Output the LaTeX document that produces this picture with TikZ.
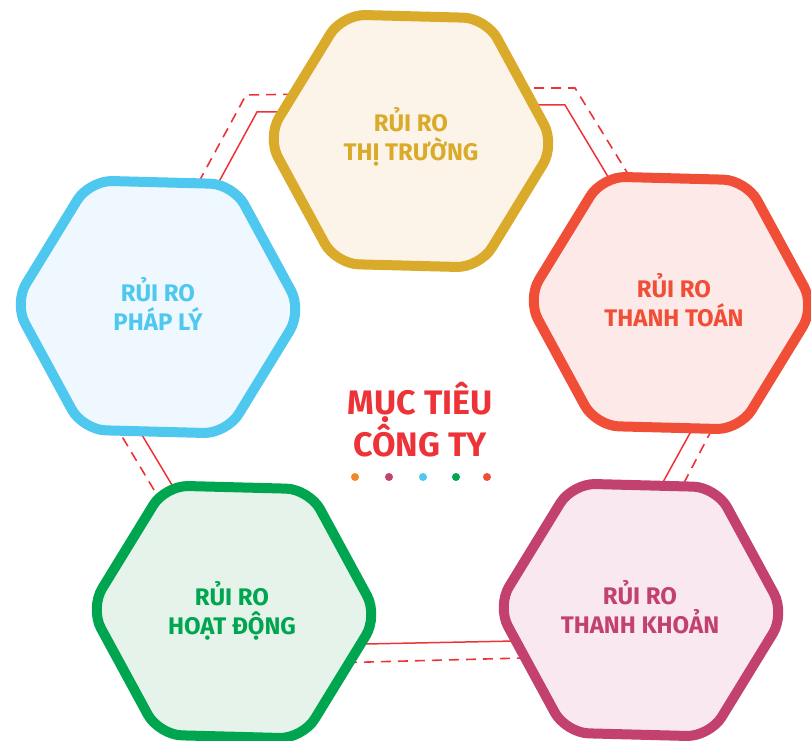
\documentclass[tikz,border=0pt]{standalone}
\usepackage{fontspec}
\setmainfont{Fira Sans}
\usetikzlibrary{calc}
\definecolor{cGold}{HTML}{DAAA2A}
\definecolor{fGold}{HTML}{FCF4E8}
\definecolor{cBlue}{HTML}{4EC8EE}
\definecolor{fBlue}{HTML}{EEF8FE}
\definecolor{cOrg}{HTML}{F04E37}
\definecolor{fOrg}{HTML}{FDEAE8}
\definecolor{cPink}{HTML}{C2416F}
\definecolor{fPink}{HTML}{F9E8EF}
\definecolor{cGreen}{HTML}{00A54F}
\definecolor{fGreen}{HTML}{E5F3EA}
\definecolor{cRed}{HTML}{EE3338}
\definecolor{cDot}{HTML}{F0892D}
\def\hR{144}
\newcommand\hexa[3]{\draw[hexline, draw=#2, fill=#3]
  ($(#1)+(31.5:{0.866*\hR})$) -- ($(#1)+(61.5:\hR)$) -- ($(#1)+(121.5:\hR)$) --
  ($(#1)+(181.5:\hR)$) -- ($(#1)+(241.5:\hR)$) -- ($(#1)+(301.5:\hR)$) --
  ($(#1)+(1.5:\hR)$) -- cycle;}
\begin{document}
\begin{tikzpicture}[x=1pt,y=-1pt,
  hexline/.style={line width=10pt, rounded corners=23pt},
  link/.style={draw=cRed, line width=1.5pt},
  dlink/.style={draw=cRed, line width=1.6pt, dash pattern=on 10pt off 7pt},
  lbl/.style={font=\fontsize{24}{29.5}\selectfont\bfseries, align=center},
  ttl/.style={font=\fontsize{34}{42}\selectfont\bfseries, align=center, text=cRed},
  dotmark/.style={circle, inner sep=0pt, minimum size=8pt}]
\useasboundingbox (0,0) rectangle (811,741);
% hexagon centres
\coordinate (hMkt) at (411,141);
\coordinate (hLaw) at (158,307);
\coordinate (hPay) at (671,303);
\coordinate (hLiq) at (641,610);
\coordinate (hOps) at (234,612);
% connector ends and bends
\coordinate (a1) at (300,112); \coordinate (a2) at (257,112); \coordinate (a3) at (209,200);
\coordinate (b1) at (310,94);  \coordinate (b2) at (246,95);  \coordinate (b3) at (189,200);
\coordinate (c1) at (500,105); \coordinate (c2) at (565,105); \coordinate (c3) at (622,200);
\coordinate (d1) at (500,88);  \coordinate (d2) at (575,88);  \coordinate (d3) at (641,195);
\coordinate (e1) at (700,415); \coordinate (e2) at (652,502);
\coordinate (f1) at (720,414); \coordinate (f2) at (675,500);
\coordinate (g1) at (340,644.5); \coordinate (g2) at (540,640.5);
\coordinate (k1) at (330,663); \coordinate (k2) at (550,657.3);
\coordinate (m1) at (133,420); \coordinate (m2) at (184,505);
\coordinate (n1) at (114,423); \coordinate (n2) at (163,505);
% connectors
\draw[link] (a1) -- (a2) -- (a3);
\draw[dlink] (b1) -- (b2) -- (b3);
\draw[link] (c1) -- (c2) -- (c3);
\draw[dlink] (d1) -- (d2) -- (d3);
\draw[link] (e1) -- (e2);
\draw[dlink] (f1) -- (f2);
\draw[link] (g1) -- (g2);
\draw[dlink] (k1) -- (k2);
\draw[link] (m1) -- (m2);
\draw[dlink] (n1) -- (n2);
% hexagons
\hexa{hMkt}{cGold}{fGold}
\hexa{hLaw}{cBlue}{fBlue}
\hexa{hPay}{cOrg}{fOrg}
\hexa{hLiq}{cPink}{fPink}
\hexa{hOps}{cGreen}{fGreen}
% labels
\node[lbl, text=cGold] (tMkt) at (411,137) {RỦI RO\\THỊ TRƯỜNG};
\node[lbl, text=cBlue] (tLaw) at (158,304) {RỦI RO\\PHÁP LÝ};
\node[lbl, text=cOrg] (tPay) at (674,300) {RỦI RO\\THANH TOÁN};
\node[lbl, text=cPink] (tLiq) at (640,607) {RỦI RO\\THANH KHOẢN};
\node[lbl, text=cGreen] (tOps) at (232,611) {RỦI RO\\HOẠT ĐỘNG};
\node[ttl] (goal) at (420,420) {MỤC TIÊU\\CÔNG TY};
\node[dotmark, fill=cDot] (d01) at (355,477) {};
\node[dotmark, fill=cPink] (d02) at (389,477) {};
\node[dotmark, fill=cBlue] (d03) at (423,477) {};
\node[dotmark, fill=cGreen] (d04) at (456,477) {};
\node[dotmark, fill=cOrg] (d05) at (487,477) {};
\end{tikzpicture}
\end{document}
